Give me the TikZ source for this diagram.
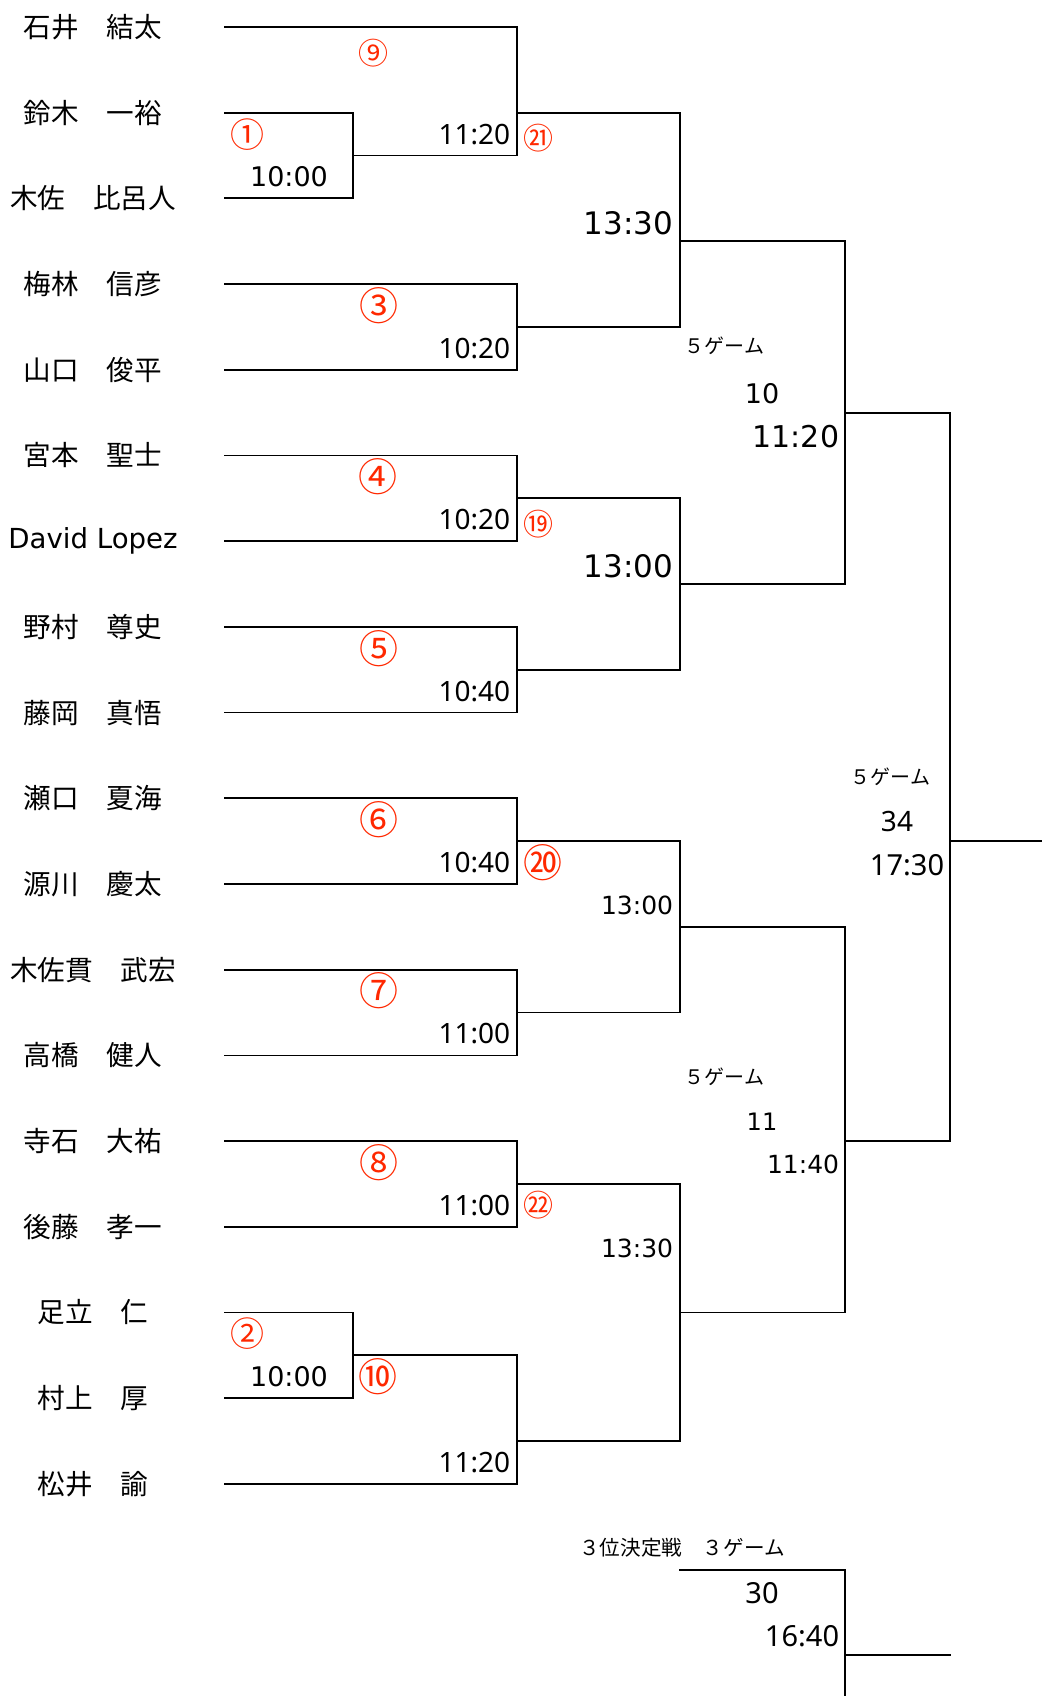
\documentclass[tikz,border=0pt]{standalone}
\usepackage{fontspec}
\setmainfont{DejaVu Sans}
\newfontfamily\jpfont{Noto Sans CJK JP}
\newfontfamily\notofont{Noto Sans}
\definecolor{numred}{RGB}{255,40,0}

\begin{document}
\begin{tikzpicture}[x=0.5pt, y=-21.425pt, line width=0.9pt, line cap=rect]
	\tikzstyle{every node}=[inner sep=0pt]
	\tikzstyle{player}=[font=\jpfont\fontsize{13.8}{16}\selectfont]
	\tikzstyle{time}=[anchor=east, font=\notofont\fontsize{14}{16}\selectfont]
	\tikzstyle{bigtime}=[anchor=east, font=\fontsize{15.5}{18}\selectfont]
	\tikzstyle{smalltime}=[anchor=east, font=\fontsize{12.5}{15}\selectfont]
	\tikzstyle{games}=[font=\jpfont\fontsize{10}{12}\selectfont]
	\tikzstyle{num}=[text=numred, font=\jpfont\fontsize{19.5}{20}\selectfont]
	\tikzstyle{midnum}=[text=numred, font=\jpfont\fontsize{17}{18}\selectfont]
	\tikzstyle{smallnum}=[text=numred, font=\jpfont\fontsize{15}{16}\selectfont]

	\useasboundingbox (0,-0.63) rectangle (1042,38.95);

	%names
	\foreach \nm [count=\i from 0] in {石井　結太, 鈴木　一裕, 木佐　比呂人, 梅林　信彦, 山口　俊平,
		宮本　聖士, {\rmfamily David Lopez}, 野村　尊史, 藤岡　真悟, 瀬口　夏海, 源川　慶太,
		木佐貫　武宏, 高橋　健人, 寺石　大祐, 後藤　孝一, 足立　仁, 村上　厚, 松井　諭}
		\node[player] (name\i) at (93,2*\i) {\nm};

	%player lines
	\foreach \k in {0,6,8,...,28,34}
		\draw (225,\k) -- (517,\k);
	\foreach \k in {2,4,30,32}
		\draw (225,\k) -- (353,\k);

	%verticals
	\foreach \x/\a/\b in {353/2/4, 353/30/32,
		517/0/3, 517/6/8, 517/10/12, 517/14/16, 517/18/20, 517/22/24, 517/26/28, 517/31/34,
		680/2/7, 680/11/15, 680/19/23, 680/27/33,
		845/5/13, 845/21/30, 845/36/38.95, 950/9/26}
		\draw (\x,\a) -- (\x,\b);

	%winners
	\foreach \k/\a/\b in {3/353/517, 31/353/517,
		2/517/680, 7/517/680, 11/517/680, 15/517/680, 19/517/680, 23/517/680, 27/517/680, 33/517/680,
		5/680/845, 13/680/845, 21/680/845, 30/680/845,
		9/845/950, 26/845/950, 19/950/1042,
		36/680/845, 38/845/950}
		\draw (\a,\k) -- (\b,\k);

	%match numbers
	\node[midnum] (no1) at (247,2.5) {①};
	\node[midnum] (no2) at (247,30.5) {②};
	\foreach \n/\x/\k [count=\i] in {③/379/6.5, ④/378/10.5, ⑤/379/14.5, ⑥/379/18.5,
		⑦/379/22.5, ⑧/379/26.5, ⑩/378/31.5, ⑳/543/19.5}
		\node[num] (big\i) at (\x,\k) {\n};
	\foreach \n/\x/\k [count=\i] in {⑨/373/0.6, ㉑/538/2.6, ⑲/538/11.6, ㉒/538/27.5}
		\node[smallnum] (small\i) at (\x,\k) {\n};

	%first round
	\node[font=\fontsize{13.5}{16}\selectfont] (t1) at (289,3.5) {10:00};
	\node[font=\fontsize{13.5}{16}\selectfont] (t2) at (289,31.5) {10:00};

	%second round
	\foreach \t/\k [count=\i] in {11:20/2.5, 10:20/7.5, 10:20/11.5, 10:40/15.5,
		10:40/19.5, 11:00/23.5, 11:00/27.5, 11:20/33.5}
		\node[time] (r\i) at (511,\k) {\t};

	%third round
	\node[bigtime] (q1) at (674,4.58) {13:30};
	\node[bigtime] (q2) at (674,12.58) {13:00};
	\node[smalltime] (q3) at (674,20.5) {13:00};
	\node[smalltime] (q4) at (674,28.5) {13:30};

	%semi finals
	\node[games, anchor=west] (g1) at (684,7.45) {５ゲーム};
	\node[font=\fontsize{13.5}{16}\selectfont] (c1) at (762,8.55) {10};
	\node[bigtime, font=\fontsize{15}{18}\selectfont] (s1) at (840,9.55) {11:20};
	\node[games, anchor=west] (g2) at (684,24.5) {５ゲーム};
	\node[font=\fontsize{12}{15}\selectfont] (c2) at (762,25.55) {11};
	\node[smalltime] (s2) at (840,26.55) {11:40};

	%final
	\node[games, anchor=west] (g3) at (850,17.5) {５ゲーム};
	\node[font=\notofont\fontsize{14}{16}\selectfont] (c3) at (897,18.55) {34};
	\node[time, font=\notofont\fontsize{14.5}{16}\selectfont] (f1) at (945,19.55) {17:30};

	%third place
	\node[games, font=\jpfont\fontsize{10.3}{12}\selectfont] (g4) at (682,35.5) {３位決定戦　３ゲーム};
	\node[font=\notofont\fontsize{14.5}{16}\selectfont] (c4) at (762,36.55) {30};
	\node[time, font=\notofont\fontsize{14.5}{16}\selectfont] (p1) at (840,37.55) {16:40};
\end{tikzpicture}
\end{document}
